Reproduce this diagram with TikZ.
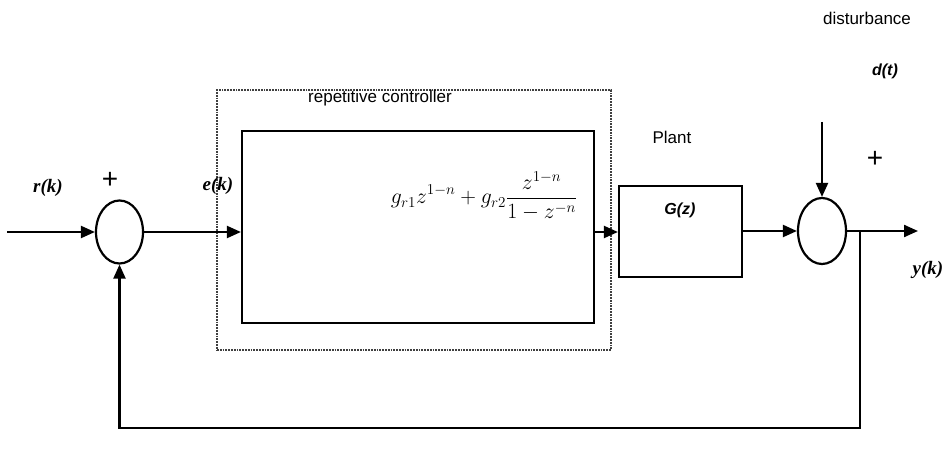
\documentclass[tikz,border=0pt]{standalone}
\usepackage{fontspec}
\setmainfont{Liberation Serif}
\newfontfamily\arial{Liberation Sans}
\usetikzlibrary{arrows.meta,shapes.geometric}
\begin{document}
\begin{tikzpicture}[x=1pt,y=-1pt,line width=2.2pt,
  arr/.style={-{Triangle[length=14pt,width=12pt]}},
  sumnode/.style={draw,ellipse,minimum width=47pt,minimum height=63pt,inner sep=0pt},
  blk/.style={draw,rectangle,inner sep=0pt},
  sig/.style={font=\fontsize{19}{19}\selectfont\bfseries\itshape},
  sans/.style={font=\arial\fontsize{17}{17}\selectfont},
  sansbi/.style={font=\arial\fontsize{16}{16}\selectfont\bfseries\itshape},
  plus/.style={font=\arial\fontsize{28}{28}\selectfont}]
\useasboundingbox (0,0) rectangle (943,457);
% dotted controller frame
\node[draw=black!75,line width=1.8pt,densely dotted,rectangle,inner sep=0pt,
  minimum width=394pt,minimum height=260pt] (frame) at (414,220) {};
\node[sans] (rclab) at (380,98) {repetitive controller};
% blocks
\node[blk,minimum width=352pt,minimum height=192pt] (ctrl) at (418,227) {};
\node[font=\fontsize{20}{20}\selectfont,scale=1.05] (formula) at (484,196)
  {$\displaystyle g_{r1}z^{1-n}+g_{r2}\frac{z^{1-n}}{1-z^{-n}}$};
\node[blk,minimum width=123pt,minimum height=91pt] (plant) at (680.5,231.5) {};
\node[sansbi] (glab) at (680,210) {G(z)};
\node[sans] (plantlab) at (672,137) {Plant};
% summing junctions
\node[sumnode] (s1) at (119.5,232) {};
\node[sumnode,minimum width=48pt,minimum height=66pt] (s2) at (822,231) {};
% coordinates
\coordinate (in) at (7,232);
\coordinate (out) at (918,231);
\coordinate (dist) at (822,122);
\coordinate (br) at (860,231);
\coordinate (fb) at (860,428);
% connectors
\draw[arr] (in) -- (s1.west);
\draw[arr] (s1.east) -- (s1.east -| ctrl.west);
\draw[arr] (s1.east -| ctrl.east) -- (s1.east -| plant.west);
\draw[arr] (plant.east |- s2.west) -- (s2.west);
\draw[arr] (dist) -- (s2.north);
\draw[arr] (s2.east) -- (out);
\draw[arr] (br) -- (fb) -| (s1.south);
% labels
\node[sig] (rk) at (48,188) {r(k)};
\node[plus] (p1) at (110,180) {+};
\node[sig] (ek) at (218,186) {e(k)};
\node[sans] (distlab) at (867,18) {disturbance};
\node[sansbi] (dt) at (885,71) {d(t)};
\node[plus] (p2) at (875,159) {+};
\node[sig] (yk) at (928,270) {y(k)};
\end{tikzpicture}
\end{document}
